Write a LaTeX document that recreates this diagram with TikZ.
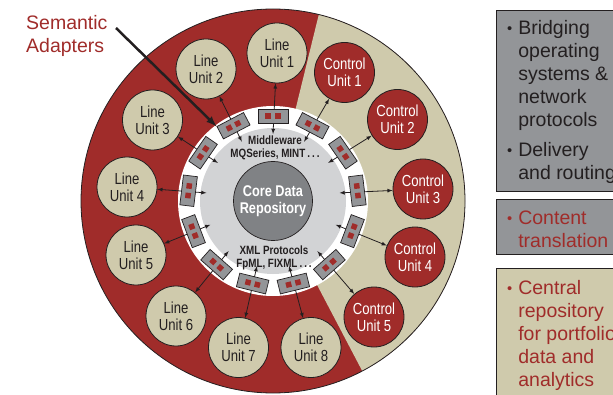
\documentclass[tikz,border=0pt]{standalone}
\usepackage{fontspec}
\usepackage{graphicx}
\setmainfont{Liberation Sans}
\newfontfamily\narrowfont[FakeStretch=0.82]{Liberation Sans}
\usetikzlibrary{arrows, calc, positioning}

\definecolor{brick}{RGB}{160,44,42}
\definecolor{sand}{RGB}{207,202,172}
\definecolor{steel}{RGB}{147,149,152}
\definecolor{mist}{RGB}{210,211,213}
\definecolor{slate}{RGB}{128,130,133}
\definecolor{ink}{RGB}{35,31,32}

\newcommand\dotmark{\raisebox{1pt}{\scalebox{.75}{\textbullet}}}
\newcommand\spacedots{\,.\,.\,.}

\tikzset{
  lineunit/.style={circle, draw=ink, line width=0.8pt, fill=sand, minimum size=60pt,
    inner sep=0pt, align=center, text=ink, font=\narrowfont\fontsize{16}{17}\selectfont},
  ctrlunit/.style={lineunit, fill=brick, text=white},
  adapter/.style={rectangle, draw=ink, line width=0.7pt, fill=steel,
    minimum width=30pt, minimum height=14pt, inner sep=0pt},
  chip/.style={rectangle, fill=brick, minimum size=5.5pt, inner sep=0pt},
  link/.style={<->, >=latex, line width=0.8pt, ink},
  disctext/.style={align=center, text=ink, font=\narrowfont\bfseries\fontsize{12}{12.5}\selectfont},
  infobox/.style={rectangle, draw=ink, line width=1.2pt, anchor=north west, minimum width=150pt},
  infotext/.style={anchor=north west, inner sep=0pt, font=\fontsize{19.5}{23}\selectfont},
}

\begin{document}
\begin{tikzpicture}[x=1pt,y=1pt]
\useasboundingbox (0,0) rectangle (613,394);
\clip (0,0) rectangle (613,394);
\coordinate (C) at (273,193);

% big wheel: red half for line units, sand half for control units
\fill[brick] (C) circle[radius=192];
\fill[sand] (C) -- ++(-62.3:192) arc[start angle=-62.3, end angle=76.2, radius=192] -- cycle;
\draw[ink, line width=0.8pt] (C) circle[radius=192];
\fill[white] (C) circle[radius=95];
\fill[mist] (C) circle[radius=73];

\node[circle, draw=ink, line width=0.7pt, fill=slate, minimum size=79pt, inner sep=0pt,
  align=center, text=white, font=\narrowfont\bfseries\fontsize{15.5}{16.5}\selectfont]
  (core) at (C) {Core Data\\Repository};
\node[disctext] (middleware) at (275,246) {Middleware\\MQSeries, MINT\spacedots};
\node[disctext] (xmlproto) at (274,136) {XML Protocols\\FpML, FIXML\spacedots};

% units
\node[lineunit] (lu1) at (277,341) {Line\\Unit 1};
\node[lineunit] (lu2) at (206,325) {Line\\Unit 2};
\node[lineunit] (lu3) at (152.5,274) {Line\\Unit 3};
\node[lineunit] (lu4) at (127,207) {Line\\Unit 4};
\node[lineunit] (lu5) at (136,139) {Line\\Unit 5};
\node[lineunit] (lu6) at (176,78) {Line\\Unit 6};
\node[lineunit] (lu7) at (238.5,46.5) {Line\\Unit 7};
\node[lineunit] (lu8) at (311,46.5) {Line\\Unit 8};
\node[ctrlunit] (cu1) at (344.5,321.5) {Control\\Unit 1};
\node[ctrlunit] (cu2) at (397.5,274.5) {Control\\Unit 2};
\node[ctrlunit] (cu3) at (423,205) {Control\\Unit 3};
\node[ctrlunit] (cu4) at (415,137) {Control\\Unit 4};
\node[ctrlunit] (cu5) at (374,77) {Control\\Unit 5};

% spokes from the repository out to every unit
\foreach \k/\u in {0/lu1,1/cu1,2/cu2,3/cu3,4/cu4,5/cu5,6/lu8,7/lu7,8/lu6,9/lu5,10/lu4,11/lu3,12/lu2}{
  \pgfmathsetmacro\a{90-360/13*\k}
  \coordinate (tip\k) at ($(C)+(\a:67)$);
  \draw[link] (tip\k) -- (\u);
}

% adapters on the white ring
\foreach \k in {0,...,12}{
  \pgfmathsetmacro\a{90-360/13*\k}
  \node[adapter, rotate=\a-90] (ad\k) at ($(C)+(\a:85)$) {};
  \node[chip, rotate=\a-90] at ($(ad\k)+(\a-90:4.8)$) {};
  \node[chip, rotate=\a-90] at ($(ad\k)+(\a+90:4.8)$) {};
}

\node[anchor=north west, inner sep=0pt, align=left, text=brick,
  font=\fontsize{19.5}{23}\selectfont] (semlbl) at (26,379) {Semantic\\Adapters};
\coordinate (semtail) at (116,366);
\draw[-latex, line width=2.5pt, ink] (semtail) -- (ad12.north west);

% legend boxes
\node[infobox, fill=steel, minimum height=181pt] (boxnet) at (496,384) {};
\node[infotext, text=ink] (nettext) at (507,376) {%
  \begin{tabular}{@{}l@{\hspace{6pt}}l@{}}
  \dotmark & Bridging\\ & operating\\ & systems \&\\ & network\\ & protocols\\[7pt]
  \dotmark & Delivery\\ & and routing
  \end{tabular}};
\node[infobox, fill=steel, minimum height=55pt] (boxcontent) at (496,195) {};
\node[infotext, text=brick] (contenttext) at (507,186) {%
  \begin{tabular}{@{}l@{\hspace{6pt}}l@{}}
  \dotmark & Content\\ & translation
  \end{tabular}};
\node[infobox, fill=sand, minimum height=150pt] (boxrepo) at (496,126) {};
\node[infotext, text=brick] (repotext) at (507,116) {%
  \begin{tabular}{@{}l@{\hspace{6pt}}l@{}}
  \dotmark & Central\\ & repository\\ & for portfolio\\ & data and\\ & analytics
  \end{tabular}};
\end{tikzpicture}
\end{document}
